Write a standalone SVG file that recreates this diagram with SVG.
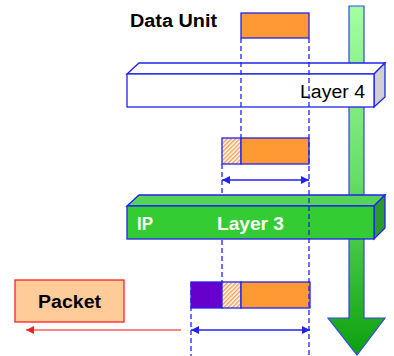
<svg xmlns="http://www.w3.org/2000/svg" width="394" height="356" viewBox="0 0 394 356">
<style>
.lbl{font-family:"Liberation Sans",Arial,sans-serif;font-size:18px}
.b{font-weight:bold}
.dash{stroke:#2222ee;stroke-width:1.3;stroke-dasharray:5,3;fill:none}
.blk{stroke:#2222ee;stroke-width:1.3}
.dim{stroke:#2222ee;stroke-width:1.5;fill:none}
</style>
<defs>
<linearGradient id="gbar" x1="0" y1="0" x2="0" y2="1">
<stop offset="0" stop-color="#a2ffa2"/>
<stop offset="0.5" stop-color="#66dd66"/>
<stop offset="1" stop-color="#0ca00c"/>
</linearGradient>
<pattern id="hatch" width="3" height="3" patternUnits="userSpaceOnUse" patternTransform="rotate(45)">
<rect width="3" height="3" fill="#ffffff"/>
<rect width="1.5" height="3" fill="#f5a050"/>
</pattern>
<marker id="ab" markerWidth="8" markerHeight="8" refX="8" refY="4" orient="auto-start-reverse" markerUnits="userSpaceOnUse">
<path d="M0,0 L8,4 L0,8 Z" fill="#2222ee"/>
</marker>
<marker id="ar" markerWidth="8" markerHeight="8" refX="8" refY="4" orient="auto" markerUnits="userSpaceOnUse">
<path d="M0,0 L8,4 L0,8 Z" fill="#ee2222"/>
</marker>
</defs>

<g id="flow-arrow">
<polygon points="349,6 364,6 364,318 385,318 357,355 328,318 349,318" fill="url(#gbar)" stroke="#3344ee" stroke-width="1.2"/>
</g>

<g id="data-unit">
<text class="lbl b" x="130" y="27" textLength="87" lengthAdjust="spacingAndGlyphs">Data Unit</text>
<rect x="241" y="13" width="68" height="25" fill="#ff9933" class="blk"/>
</g>

<g id="layer4">
<polygon points="127,74 139,63 385,63 374,74" fill="#ffffff" class="blk"/>
<polygon points="374,74 385,63 385,97 374,107" fill="#d0d0d0" class="blk"/>
<rect x="127" y="74" width="247" height="33" fill="#ffffff" class="blk"/>
<text class="lbl" x="300" y="98" textLength="65" lengthAdjust="spacingAndGlyphs">Layer 4</text>
</g>

<g id="segment">
<rect x="222" y="138" width="19" height="26" fill="url(#hatch)" class="blk"/>
<rect x="241" y="138" width="68" height="26" fill="#ff9933" class="blk"/>
</g>

<g id="layer3">
<polygon points="127,206 139,195 385,195 374,206" fill="#55d555" class="blk"/>
<polygon points="374,206 385,195 385,228 374,239" fill="#2a9a2a" class="blk"/>
<rect x="127" y="206" width="247" height="33" fill="#33cc33" class="blk"/>
<text class="lbl b" x="137" y="230" fill="#ffffff" textLength="16" lengthAdjust="spacingAndGlyphs">IP</text>
<text class="lbl b" x="217" y="230" fill="#ffffff" textLength="67" lengthAdjust="spacingAndGlyphs">Layer 3</text>
</g>

<g id="ip-packet">
<rect x="191" y="282" width="31" height="26" fill="#6600cc" class="blk"/>
<rect x="222" y="282" width="19" height="26" fill="url(#hatch)" class="blk"/>
<rect x="241" y="282" width="69" height="26" fill="#ff9933" class="blk"/>
</g>

<g id="packet">
<rect x="15" y="280" width="109" height="42" fill="#ffcc99" stroke="#ff2222" stroke-width="1.3"/>
<text class="lbl b" x="38" y="308" textLength="63" lengthAdjust="spacingAndGlyphs">Packet</text>
</g>

<g id="connectors">
<line class="dash" x1="241" y1="38" x2="241" y2="138"/>
<line class="dash" x1="309" y1="38" x2="309" y2="356"/>
<line class="dash" x1="222" y1="164" x2="222" y2="195"/>
<line class="dash" x1="222" y1="240" x2="222" y2="282"/>
<line class="dash" x1="191" y1="282" x2="191" y2="356"/>
<line class="dim" x1="222" y1="180" x2="309" y2="180" marker-start="url(#ab)" marker-end="url(#ab)"/>
<line class="dim" x1="191" y1="330" x2="310" y2="330" marker-start="url(#ab)" marker-end="url(#ab)"/>
<line x1="181" y1="330" x2="26" y2="330" stroke="#ff6060" stroke-width="1.5" marker-end="url(#ar)"/>
</g>
</svg>
